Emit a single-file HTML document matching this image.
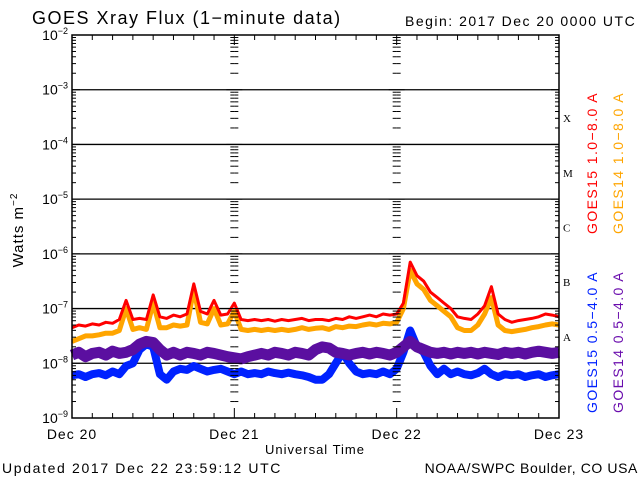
<!DOCTYPE html>
<html><head><meta charset="utf-8"><style>
body{margin:0;background:#fff;}
svg{display:block;font-family:"Liberation Sans",sans-serif;}
</style></head><body>
<svg id="c" width="640" height="480" viewBox="0 0 640 480">
<text x="32" y="24" font-size="18" letter-spacing="1.5">GOES Xray Flux (1−minute data)</text>
<text x="405" y="26" font-size="14" letter-spacing="1.5">Begin:  2017 Dec 20 0000 UTC</text>
<text transform="translate(23,230) rotate(-90)" text-anchor="middle" font-size="15" letter-spacing="1">Watts m<tspan dy="-6" font-size="10">−2</tspan></text>
<text x="315" y="454" text-anchor="middle" font-size="13" letter-spacing="1">Universal Time</text>
<text x="2" y="473" font-size="14" letter-spacing="1.65">Updated 2017 Dec 22 23:59:12 UTC</text>
<text x="638" y="473" text-anchor="end" font-size="14" letter-spacing="0.6">NOAA/SWPC Boulder, CO USA</text>
<g id="grid"></g><g id="series"></g><g id="axes"></g>
<text transform="translate(597,163) rotate(-90)" text-anchor="middle" font-size="14" letter-spacing="1.4" fill="#ff0000">GOES15 1.0−8.0 A</text>
<text transform="translate(623,163) rotate(-90)" text-anchor="middle" font-size="14" letter-spacing="1.4" fill="#ffa500">GOES14 1.0−8.0 A</text>
<text transform="translate(597,342) rotate(-90)" text-anchor="middle" font-size="14" letter-spacing="1.4" fill="#0022ff">GOES15 0.5−4.0 A</text>
<text transform="translate(623,342) rotate(-90)" text-anchor="middle" font-size="14" letter-spacing="1.4" fill="#6a0dad">GOES14 0.5−4.0 A</text>
</svg>
<script>
// hourly log10 flux values, 73 points (Dec 20 00h .. Dec 23 00h)
const hours = Array.from({length:73},(_, i)=>i);
const goes15Long = [-7.35,-7.3,-7.32,-7.28,-7.3,-7.25,-7.27,-7.2,-6.85,-7.2,-7.18,-7.2,-6.75,-7.15,-7.18,-7.12,-7.15,-7.1,-6.55,-7.05,-7.1,-6.85,-7.12,-7.1,-6.9,-7.2,-7.22,-7.2,-7.22,-7.2,-7.23,-7.2,-7.22,-7.2,-7.18,-7.22,-7.2,-7.2,-7.22,-7.18,-7.2,-7.15,-7.18,-7.15,-7.12,-7.15,-7.1,-7.12,-7.1,-6.9,-6.15,-6.4,-6.5,-6.7,-6.8,-6.9,-7.0,-7.15,-7.18,-7.2,-7.1,-6.95,-6.6,-7.1,-7.2,-7.25,-7.22,-7.2,-7.18,-7.15,-7.1,-7.12,-7.15];
const goes14Long = [-7.6,-7.55,-7.5,-7.5,-7.48,-7.45,-7.45,-7.4,-7.0,-7.38,-7.35,-7.38,-6.9,-7.35,-7.35,-7.3,-7.32,-7.3,-6.65,-7.25,-7.28,-7.0,-7.3,-7.28,-7.05,-7.38,-7.4,-7.38,-7.4,-7.38,-7.4,-7.38,-7.4,-7.38,-7.35,-7.38,-7.36,-7.35,-7.38,-7.33,-7.35,-7.32,-7.33,-7.3,-7.28,-7.3,-7.27,-7.28,-7.25,-7.0,-6.3,-6.55,-6.65,-6.85,-6.95,-7.05,-7.15,-7.35,-7.4,-7.4,-7.3,-7.1,-6.8,-7.3,-7.4,-7.42,-7.4,-7.38,-7.35,-7.33,-7.3,-7.28,-7.3];
const goes14Short = [-7.85,-7.8,-7.88,-7.82,-7.8,-7.85,-7.78,-7.82,-7.8,-7.75,-7.65,-7.6,-7.62,-7.75,-7.85,-7.8,-7.85,-7.8,-7.82,-7.85,-7.8,-7.82,-7.85,-7.88,-7.9,-7.92,-7.88,-7.85,-7.82,-7.85,-7.8,-7.82,-7.85,-7.8,-7.82,-7.85,-7.75,-7.7,-7.72,-7.8,-7.82,-7.85,-7.82,-7.8,-7.83,-7.8,-7.82,-7.85,-7.8,-7.7,-7.6,-7.7,-7.75,-7.8,-7.82,-7.8,-7.83,-7.8,-7.82,-7.8,-7.83,-7.8,-7.82,-7.84,-7.8,-7.82,-7.8,-7.83,-7.8,-7.78,-7.8,-7.82,-7.8];
const goes15Short = [-8.22,-8.2,-8.25,-8.2,-8.18,-8.22,-8.15,-8.2,-8.05,-8.0,-7.75,-7.65,-7.7,-8.2,-8.3,-8.15,-8.1,-8.12,-8.05,-8.1,-8.15,-8.12,-8.1,-8.15,-8.2,-8.15,-8.2,-8.18,-8.2,-8.15,-8.18,-8.2,-8.17,-8.2,-8.22,-8.25,-8.3,-8.3,-8.2,-8.0,-7.8,-8.0,-8.15,-8.2,-8.18,-8.2,-8.15,-8.2,-8.1,-7.8,-7.4,-7.7,-7.8,-8.05,-8.2,-8.1,-8.2,-8.15,-8.2,-8.22,-8.18,-8.1,-8.2,-8.25,-8.2,-8.22,-8.2,-8.25,-8.22,-8.2,-8.25,-8.22,-8.2];
const yTickExps = [-2,-3,-4,-5,-6,-7,-8,-9];
const dayLabels = ["Dec 20","Dec 21","Dec 22","Dec 23"];
const classLabels = ["X","M","C","B","A"];

const NS="http://www.w3.org/2000/svg";
const L=72,R=559,T=35,B=418;
const xs=h=>L+(R-L)*h/72;
const ys=e=>T+(B-T)*(-2-e)/(-2+9);
function mk(tag,attrs,parent){const e=document.createElementNS(NS,tag);for(const k in attrs)e.setAttribute(k,attrs[k]);parent.appendChild(e);return e;}
const grid=document.getElementById('grid'),ser=document.getElementById('series'),ax=document.getElementById('axes');
yTickExps.forEach(e=>{
  if(e>-9&&e<-2){const l=mk('line',{x1:L,x2:R,y1:ys(e),y2:ys(e),stroke:'#000','stroke-width':1.3},grid);
  
  }
  const t=mk('text',{x:L-4,y:ys(e)+5,'text-anchor':'end','font-size':14},ax);
  
  
  t.textContent='10';const s=mk('tspan',{dy:-6,'font-size':9},t);s.textContent=String(e).replace('-','−');
});
[0,24,48,72].forEach(h=>{
  const x=xs(h);
  for(let d=-9;d<-2;d++){for(let m=1;m<10;m++){
    const y=ys(d+Math.log10(m));const len=m===1?8:4;
    const sides=h===0?[1]:h===72?[-1]:[-1,1];
    sides.forEach(s=>{const tk=mk('line',{x1:x,x2:x+s*len,y1:y,y2:y,stroke:'#000','stroke-width':1},ax);
    
    });
  }}
});
for(let h=0;h<=72;h+=3){const x=xs(h);const len=h%24===0?10:5;
  const a=mk('line',{x1:x,x2:x,y1:B,y2:B-len,stroke:'#000'},ax);
  
  
  const b=mk('line',{x1:x,x2:x,y1:T,y2:T+len,stroke:'#000'},ax);
  
  }
dayLabels.forEach((d,i)=>{const t=mk('text',{x:xs(i*24),y:439,'text-anchor':'middle','font-size':14,'letter-spacing':1},ax);
  
  
  t.textContent=d;});
classLabels.forEach((c,i)=>{const t=mk('text',{x:563,y:ys(-3.5-i)+5,'font-size':11,'font-family':'Liberation Serif, serif'},ax);
  
  
  t.textContent=c;});
const fr=mk('rect',{x:L,y:T,width:R-L,height:B-T,fill:'none',stroke:'#000','stroke-width':1.5},ax);


function line(vals,color,w,name){
  const d=vals.map((v,i)=>(i?'L':'M')+xs(hours[i]).toFixed(1)+','+ys(v).toFixed(1)).join('');
  const p=mk('path',{d:d,fill:'none',stroke:color,'stroke-width':w,'stroke-linejoin':'round'},ser);
  
  
}
line(goes15Short,'#0022ff',8,'series-goes15-short');
line(goes14Short,'#5b0fa0',11,'series-goes14-short');
line(goes14Long,'#ffa500',5,'series-goes14-long');
line(goes15Long,'#ff0000',3,'series-goes15-long');
</script>
</body></html>
